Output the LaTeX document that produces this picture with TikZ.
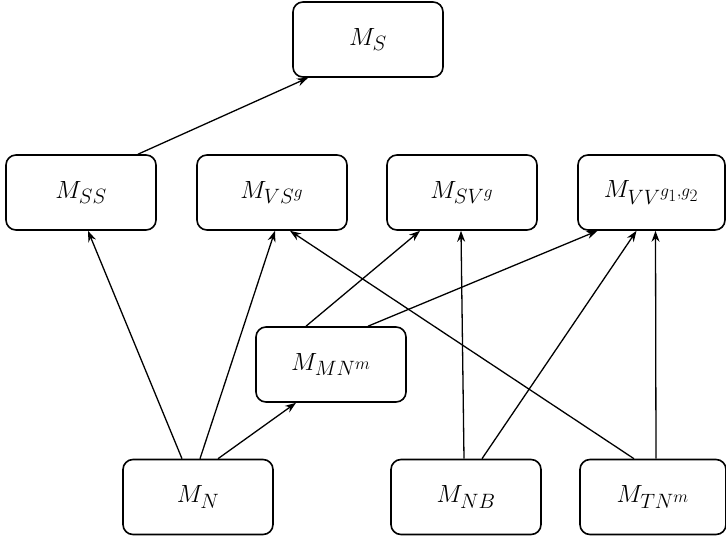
\documentclass[tikz,border=0pt]{standalone}
\usepackage{tikz}
\usetikzlibrary{calc,arrows.meta}

\begin{document}
\begin{tikzpicture}[x=1pt,y=-1pt,
  box/.style={draw, line width=1.6pt, rounded corners=10pt, minimum width=150pt, minimum height=75pt, font=\Huge},
  arr/.style={-{Stealth[length=11pt,width=8pt]}, line width=1.3pt}]

% Fix the canvas
\useasboundingbox (0,0) rectangle (726,543);

% Top row
\node[box] (S) at (368,39.5) {$M_S$};

% Middle row
\node[box] (SS) at (81,192.5) {$M_{SS}$};
\node[box] (VS) at (272,192.5) {$M_{VS^g}$};
\node[box] (SV) at (462,192.5) {$M_{SV^g}$};
\node[box, minimum width=147pt] (VV) at (651.5,192.5) {$M_{VV^{g_1,g_2}}$};

% Inner node
\node[box] (MN) at (331,364.5) {$M_{MN^m}$};

% Bottom row
\node[box] (N) at (198,497) {$M_N$};
\node[box] (NB) at (466,497) {$M_{NB}$};
\node[box, minimum width=146pt] (TN) at (653,497) {$M_{TN^m}$};

% Edges to the top
\draw[arr] ([xshift=57pt]SS.north) -- ([xshift=-60pt]S.south);

% Edges from M_N
\draw[arr] ([xshift=-16pt]N.north) -- ([xshift=7pt]SS.south);
\draw[arr] ([xshift=2pt]N.north) -- ([xshift=3pt]VS.south);
\draw[arr] ([xshift=20pt]N.north) -- ([xshift=-35pt]MN.south);

% Edges from M_MN^m
\draw[arr] ([xshift=-25pt]MN.north) -- ([xshift=-42pt]SV.south);
\draw[arr] ([xshift=37pt]MN.north) -- ([xshift=-54pt]VV.south);

% Edges from M_NB
\draw[arr] ([xshift=-2pt]NB.north) -- ([xshift=-1pt]SV.south);
\draw[arr] ([xshift=16pt]NB.north) -- ([xshift=-15pt]VV.south);

% Edges from M_TN^m
\draw[arr] ([xshift=-19pt]TN.north) -- ([xshift=18pt]VS.south);
\draw[arr] ([xshift=3pt]TN.north) -- ([xshift=4pt]VV.south);

\end{tikzpicture}
\end{document}
